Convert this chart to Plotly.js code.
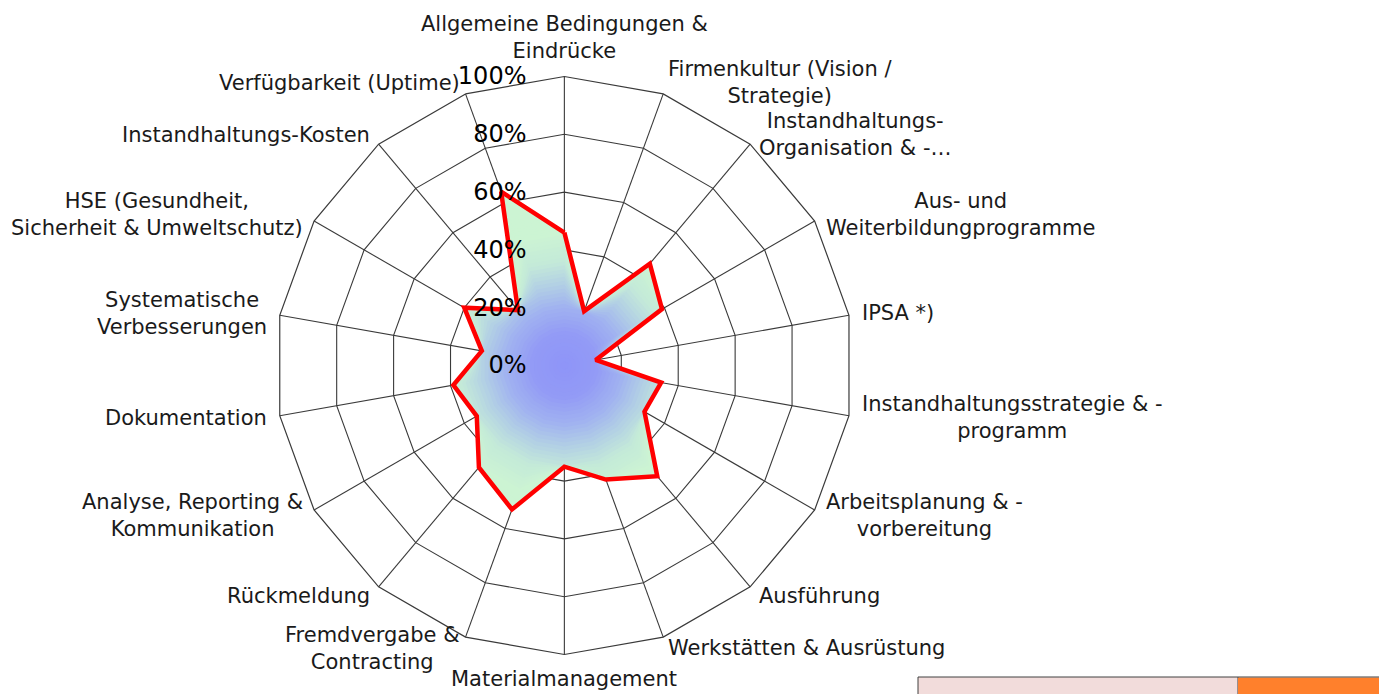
<!DOCTYPE html>
<html>
<head>
<meta charset="utf-8">
<script src="https://cdn.plot.ly/plotly-3.0.1.min.js"></script>
<style>
html,body{margin:0;padding:0;background:#fff;}
#chart{width:1379px;height:694px;}
</style>
</head>
<body>
<div id="chart"></div>
<script>
const categories = [
  "Allgemeine Bedingungen &<br>Eindrücke",
  "Firmenkultur (Vision /<br>Strategie)",
  "Instandhaltungs-<br>Organisation & -…",
  "Aus- und<br>Weiterbildungprogramme",
  "IPSA *)",
  "Instandhaltungsstrategie & -<br>programm",
  "Arbeitsplanung & -<br>vorbereitung",
  "Ausführung",
  "Werkstätten & Ausrüstung",
  "Materialmanagement",
  "Fremdvergabe &<br>Contracting",
  "Rückmeldung",
  "Analyse, Reporting &<br>Kommunikation",
  "Dokumentation",
  "Systematische<br>Verbesserungen",
  "HSE (Gesundheit,<br>Sicherheit & Umweltschutz)",
  "Instandhaltungs-Kosten",
  "Verfügbarkeit (Uptime)"
];
const values = [46, 20, 46, 39, 11, 34, 32, 50, 42, 35, 53, 46, 35, 39, 29, 40, 25, 64];
const radialTicks = [0, 20, 40, 60, 80, 100];
const radialTickLabels = ["0%", "20%", "40%", "60%", "80%", "100%"];

const W = 1379, H = 694;
const polarDomainX = [0.19966, 0.61886];
const polarDomainY = [0.05692, 0.88977];

// gradient fill simulation: colour stops by absolute radius (percent)
const gradStops = [
  [0, [142, 148, 248]],
  [12, [147, 155, 246]],
  [21, [160, 178, 240]],
  [29, [178, 208, 228]],
  [37, [196, 234, 216]],
  [47, [204, 244, 211]],
  [100, [206, 246, 212]]
];
function colorAt(t) {
  for (let i = 1; i < gradStops.length; i++) {
    if (t <= gradStops[i][0]) {
      const a = gradStops[i-1], b = gradStops[i];
      const f = (t - a[0]) / (b[0] - a[0]);
      const c = a[1].map((v, k) => Math.round(v + (b[1][k] - v) * f));
      return 'rgb(' + c.join(',') + ')';
    }
  }
  const c = gradStops[gradStops.length-1][1];
  return 'rgb(' + c.join(',') + ')';
}

const traces = [];
const maxV = Math.max(...values);
const steps = 48;
for (let s = steps; s >= 1; s--) {
  const thr = maxV * s / steps;
  const r = values.map(v => Math.min(v, thr));
  traces.push({
    type: 'scatterpolar',
    r: r.concat([r[0]]),
    theta: categories.concat([categories[0]]),
    mode: 'lines',
    fill: 'toself',
    fillcolor: colorAt(thr),
    line: {width: 0, color: 'rgba(0,0,0,0)'},
    hoverinfo: 'skip',
    showlegend: false
  });
}
traces.push({
  type: 'scatterpolar',
  r: values.concat([values[0]]),
  theta: categories.concat([categories[0]]),
  mode: 'lines',
  line: {color: 'rgb(255,0,0)', width: 4.5},
  showlegend: false
});

// category labels placed just outside each spoke end (centred multi-line blocks)
const cxPx = (polarDomainX[0] + polarDomainX[1]) / 2 * W;
const cyPx = H - (polarDomainY[0] + polarDomainY[1]) / 2 * H;   // from top
const Rpx = Math.min((polarDomainX[1] - polarDomainX[0]) * W, (polarDomainY[1] - polarDomainY[0]) * H) / 2;
const labelGap = 12;
const annotations = categories.map((txt, i) => {
  const th = i * 2 * Math.PI / categories.length;
  const s = Math.sin(th), c = Math.cos(th);
  const px = cxPx + (Rpx + labelGap) * s;
  const py = cyPx - (Rpx + labelGap) * c;  // from top
  let xanchor = 'center', yanchor = 'middle';
  if (s > 0.05) xanchor = 'left';
  else if (s < -0.05) xanchor = 'right';
  if (Math.abs(s) <= 0.05) yanchor = c > 0 ? 'bottom' : 'top';
  return {
    xref: 'paper', yref: 'paper',
    x: px / W, y: 1 - py / H,
    xanchor: xanchor, yanchor: yanchor,
    text: txt, showarrow: false, align: 'center',
    borderpad: 0,
    font: {family: 'DejaVu Sans, sans-serif', size: 21, color: '#1a1a1a'}
  };
});

const layout = {
  width: W,
  height: H,
  margin: {l: 0, r: 0, t: 0, b: 0},
  paper_bgcolor: '#ffffff',
  showlegend: false,
  font: {family: 'DejaVu Sans, sans-serif', color: '#1a1a1a'},
  polar: {
    domain: {x: polarDomainX, y: polarDomainY},
    gridshape: 'linear',
    bgcolor: 'rgba(0,0,0,0)',
    angularaxis: {
      type: 'category',
      categoryarray: categories,
      rotation: 90,
      direction: 'clockwise',
      showline: true,
      linecolor: '#3a3a3a',
      linewidth: 1.2,
      gridcolor: '#3a3a3a',
      gridwidth: 1.1,
      ticks: '',
      showticklabels: false
    },
    radialaxis: {
      range: [0, 100],
      angle: 90,
      tickvals: radialTicks,
      ticktext: radialTickLabels,
      tickangle: 90,
      side: 'counterclockwise',
      showline: false,
      gridcolor: '#3a3a3a',
      gridwidth: 1.1,
      ticks: 'outside',
      ticklen: 29,
      tickcolor: 'rgba(0,0,0,0)',
      tickfont: {size: 24, color: '#000000', family: 'DejaVu Sans, sans-serif'},
      layer: 'above traces'
    }
  },
  annotations: annotations,
  shapes: [
    {type: 'rect', xref: 'paper', yref: 'paper', x0: 918/W, x1: 1238/W, y0: -0.05, y1: (H-677)/H,
     fillcolor: 'rgb(242,220,219)', line: {color: '#404040', width: 1}},
    {type: 'rect', xref: 'paper', yref: 'paper', x0: 1238/W, x1: 1.05, y0: -0.05, y1: (H-677.5)/H,
     fillcolor: 'rgb(255,128,44)', line: {width: 0}},
    {type: 'line', xref: 'paper', yref: 'paper', x0: 1238/W, x1: 1, y0: (H-677)/H, y1: (H-677)/H,
     line: {color: '#404040', width: 1}}
  ]
};

Plotly.newPlot('chart', traces, layout, {displayModeBar: false, staticPlot: true});
</script>
</body>
</html>
